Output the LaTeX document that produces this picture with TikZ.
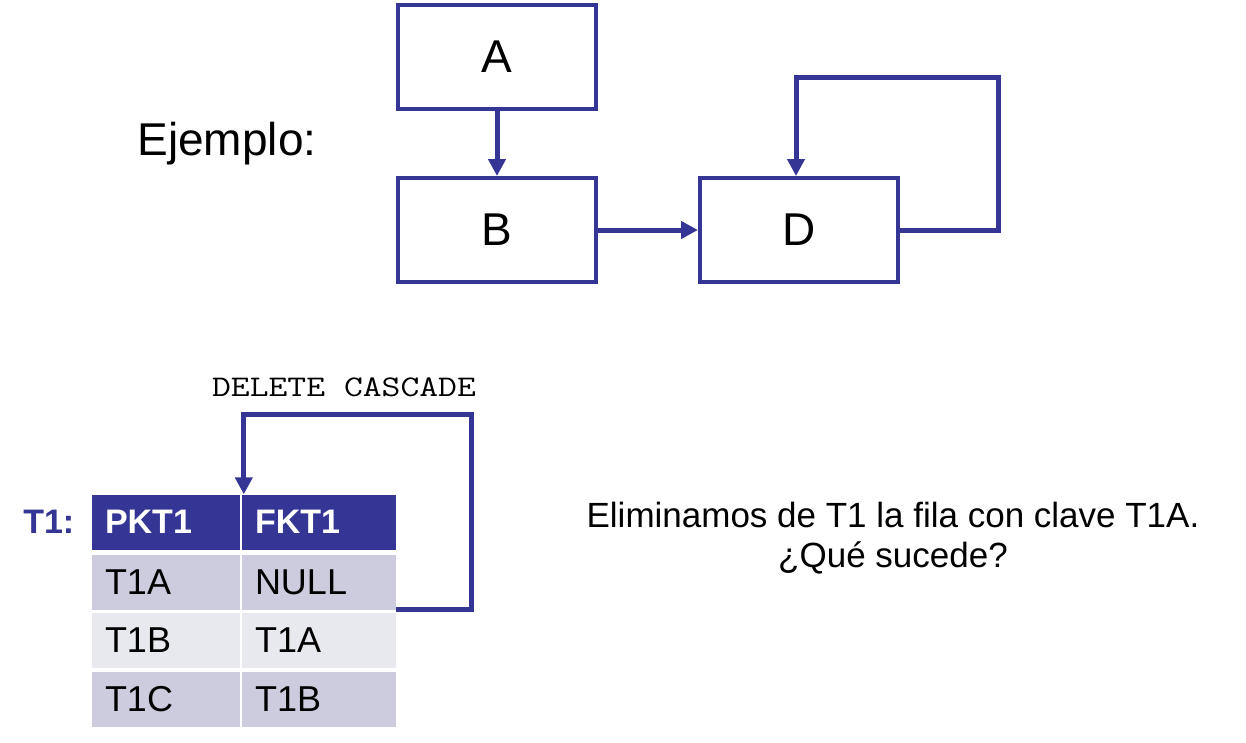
\documentclass[tikz,border=0pt]{standalone}
\usepackage{fontspec}
\setmainfont{Liberation Sans}
\usetikzlibrary{arrows.meta,positioning}

\definecolor{navy}{RGB}{52,53,148}
\definecolor{rowdark}{RGB}{205,204,222}
\definecolor{rowlight}{RGB}{232,232,239}

\tikzset{
    entity/.style={draw=navy, line width=4pt, minimum width=198pt, minimum height=104pt, inner sep=0pt, font=\fontsize{46}{50}\selectfont},
    link/.style={navy, line width=5pt, -{Triangle[length=17pt,width=17pt]}},
    pkcell/.style={text width=122pt, inner xsep=13pt, inner ysep=0pt, align=left, minimum height=55pt},
    fkcell/.style={pkcell, text width=128pt},
    headrow/.style={fill=navy, text=white, minimum height=53pt, font=\fontsize{34}{38}\selectfont\bfseries},
    bodyrow/.style={font=\fontsize{36}{40}\selectfont},
}

\begin{document}
\begin{tikzpicture}[x=1pt, y=-1pt]
    \useasboundingbox (0,0) rectangle (1246,742);

    % example graph
    \node[anchor=base, font=\fontsize{46}{50}\selectfont] (ejemplo) at (227,155) {Ejemplo:};
    \node[entity] (a) at (497,57) {A};
    \node[entity] (b) at (497,230) {B};
    \node[entity] (d) at (799,230) {D};
    \coordinate (dloop) at (998,77);

    \draw[link] (a) -- (b);
    \draw[link] (b) -- (d);
    \draw[link] (d.east) -| (dloop) -| ([xshift=-3pt]d.north);

    % table T1
    \node[headrow, pkcell] (pk) at (166,522) {PKT1};
    \node[headrow, fkcell] (fk) at (319,522) {FKT1};
    \node[left=14pt of pk, text=navy, font=\fontsize{34}{38}\selectfont\bfseries] (t1) {T1:};

    \node[bodyrow, pkcell, fill=rowdark] (p1) at (166,582) {T1A};
    \node[bodyrow, fkcell, fill=rowdark] (f1) at (319,582) {NULL};
    \node[bodyrow, pkcell, fill=rowlight] (p2) at (166,640) {T1B};
    \node[bodyrow, fkcell, fill=rowlight] (f2) at (319,640) {T1A};
    \node[bodyrow, pkcell, fill=rowdark] (p3) at (166,699) {T1C};
    \node[bodyrow, fkcell, fill=rowdark] (f3) at (319,699) {T1B};

    \node[anchor=base, font=\fontsize{30}{32}\selectfont\ttfamily] (cascade) at (344,396) {\scalebox{1.22}[1]{DELETE CASCADE}};
    \coordinate (cloop) at (471,414);
    \draw[link] (f1.south east) -| (cloop) -| ([xshift=2pt]fk.north west);

    % question
    \node[align=center, inner sep=0pt, font=\fontsize{35}{40}\selectfont] (question) at (893,538) {Eliminamos de T1 la fila con clave T1A.\\¿Qué sucede?};
\end{tikzpicture}
\end{document}
